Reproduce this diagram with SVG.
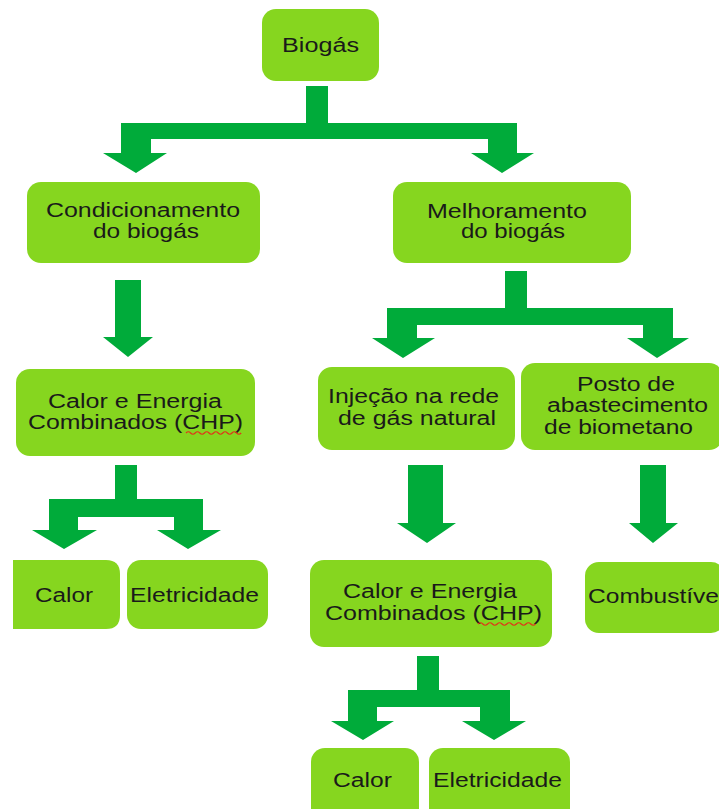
<svg xmlns="http://www.w3.org/2000/svg" width="719" height="809" viewBox="0 0 719 809">
<style>
.box{fill:#86d61f;}
.arrow{fill:#00ab3a;}
.t{font-family:"Liberation Sans",Arial,sans-serif;font-size:19.5px;fill:#1a1a1a;text-anchor:middle;}
.sq{fill:none;stroke:#e0341a;stroke-width:1.2;}
</style>
<rect width="719" height="809" fill="#ffffff"/>
<g id="connectors">
<polygon class="arrow" points="306,86 328,86 328,123 517,123 517,153 534,153 502,173 471,153 488,153 488,139 151,139 151,153 167,153 136,173 103,153 121,153 121,123 306,123"/>
<polygon class="arrow" points="115,280 141,280 141,337 153,337 128,357 103,337 115,337"/>
<polygon class="arrow" points="505,271 527,271 527,308 673,308 673,338 689,338 657,358 627,338 643,338 643,325 417,325 417,338 435,338 403,358 372,338 387,338 387,308 505,308"/>
<polygon class="arrow" points="115,465 137,465 137,499 203,499 203,530 221,530 188,549 157,530 174,530 174,517 78,517 78,530 97,530 64,549 32,530 49,530 49,499 115,499"/>
<polygon class="arrow" points="408,465 443,465 443,523 456,523 427,543 397,523 408,523"/>
<polygon class="arrow" points="640,465 666,465 666,523 678,523 653,543 629,523 640,523"/>
<polygon class="arrow" points="417,656 439,656 439,690 510,690 510,721 526,721 494,740 462,721 480,721 480,707 377,707 377,721 394,721 363,740 331,721 348,721 348,690 417,690"/>
</g>
<g id="biogas">
<rect class="box" x="262" y="9" width="117" height="72" rx="14"/>
<text class="t" x="320.5" y="52" textLength="77" lengthAdjust="spacingAndGlyphs">Biogás</text>
</g>
<g id="condicionamento">
<rect class="box" x="27" y="182" width="233" height="81" rx="14"/>
<text class="t" x="143" y="217" textLength="194" lengthAdjust="spacingAndGlyphs">Condicionamento</text>
<text class="t" x="146" y="238" textLength="106" lengthAdjust="spacingAndGlyphs">do biogás</text>
</g>
<g id="melhoramento">
<rect class="box" x="393" y="182" width="238" height="81" rx="14"/>
<text class="t" x="507" y="218" textLength="160" lengthAdjust="spacingAndGlyphs">Melhoramento</text>
<text class="t" x="513" y="238" textLength="104" lengthAdjust="spacingAndGlyphs">do biogás</text>
</g>
<g id="chp1">
<rect class="box" x="16" y="369" width="239" height="87" rx="14"/>
<text class="t" x="135" y="408" textLength="174" lengthAdjust="spacingAndGlyphs">Calor e Energia</text>
<text class="t" x="135.5" y="429" textLength="215" lengthAdjust="spacingAndGlyphs">Combinados (CHP)</text>
<path class="sq" d="M186,433 q2.3,-2.5 4.6,0 t4.6,0 t4.6,0 t4.6,0 t4.6,0 t4.6,0 t4.6,0 t4.6,0 t4.6,0 t4.6,0 t4.6,0 t4.6,0"/>
</g>
<g id="injecao">
<rect class="box" x="318" y="367" width="197" height="83" rx="14"/>
<text class="t" x="413.5" y="403" textLength="171" lengthAdjust="spacingAndGlyphs">Injeção na rede</text>
<text class="t" x="417" y="425" textLength="158" lengthAdjust="spacingAndGlyphs">de gás natural</text>
</g>
<g id="posto">
<rect class="box" x="521" y="363" width="202" height="87" rx="14"/>
<text class="t" x="626" y="391" textLength="98" lengthAdjust="spacingAndGlyphs">Posto de</text>
<text class="t" x="627.5" y="412" textLength="161" lengthAdjust="spacingAndGlyphs">abastecimento</text>
<text class="t" x="618.5" y="434" textLength="149" lengthAdjust="spacingAndGlyphs">de biometano</text>
</g>
<g id="calor1">
<path class="box" d="M13,560 H106 Q120,560 120,574 V615 Q120,629 106,629 H13 Z"/>
<text class="t" x="64" y="602" textLength="58" lengthAdjust="spacingAndGlyphs">Calor</text>
</g>
<g id="eletricidade1">
<rect class="box" x="127" y="560" width="141" height="69" rx="14"/>
<text class="t" x="194.5" y="602" textLength="129" lengthAdjust="spacingAndGlyphs">Eletricidade</text>
</g>
<g id="chp2">
<rect class="box" x="310" y="560" width="242" height="87" rx="14"/>
<text class="t" x="430" y="598" textLength="174" lengthAdjust="spacingAndGlyphs">Calor e Energia</text>
<text class="t" x="433.5" y="620" textLength="217" lengthAdjust="spacingAndGlyphs">Combinados (CHP)</text>
<path class="sq" d="M478,624 q2.4,-2.5 4.8,0 t4.8,0 t4.8,0 t4.8,0 t4.8,0 t4.8,0 t4.8,0 t4.8,0 t4.8,0 t4.8,0 t4.8,0 t4.8,0"/>
</g>
<g id="combustivel">
<rect class="box" x="585" y="562" width="140" height="71" rx="14"/>
<text class="t" x="588" y="603" textLength="131" lengthAdjust="spacingAndGlyphs" style="text-anchor:start">Combustíve</text>
</g>
<g id="calor2">
<rect class="box" x="311" y="748" width="108" height="75" rx="14"/>
<text class="t" x="362.5" y="787" textLength="59" lengthAdjust="spacingAndGlyphs">Calor</text>
</g>
<g id="eletricidade2">
<rect class="box" x="429" y="748" width="141" height="75" rx="14"/>
<text class="t" x="497.5" y="787" textLength="129" lengthAdjust="spacingAndGlyphs">Eletricidade</text>
</g>
</svg>
